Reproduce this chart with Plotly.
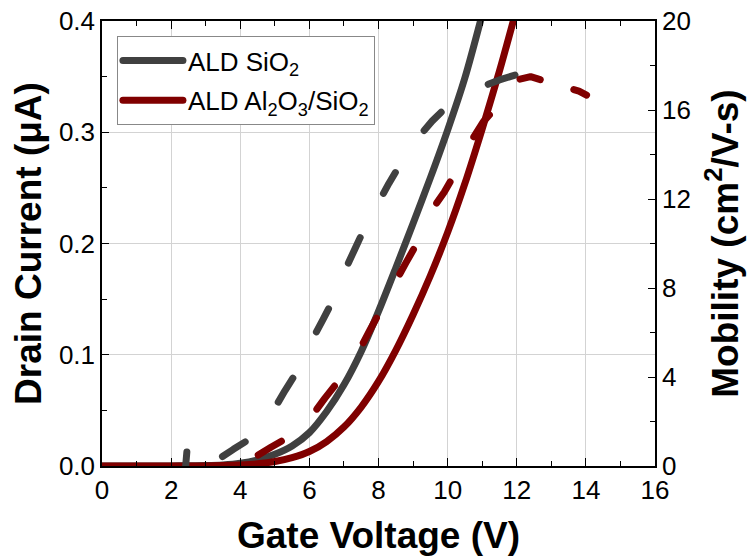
import plotly.graph_objects as go

# Drain current (left axis, µA)
v_sio2 = [0, 1, 2, 2.5, 3, 3.5, 4, 4.5, 5, 5.5, 6, 6.5, 7, 7.5, 8, 8.5, 9, 9.5, 10, 10.5, 10.95]
i_sio2 = [0, 0, 0.0001, 0.0002, 0.0004, 0.001, 0.0025, 0.0055, 0.0105, 0.018, 0.030, 0.049, 0.073,
          0.103, 0.139, 0.178, 0.218, 0.259, 0.302, 0.349, 0.400]

v_al = [0, 1, 2, 3, 3.5, 4, 4.5, 5, 5.5, 6, 6.5, 7, 7.5, 8, 8.5, 9, 9.5, 10, 10.5, 11, 11.5, 11.9]
i_al = [0, 0, 0, 0.0001, 0.0004, 0.001, 0.002, 0.004, 0.0075, 0.013, 0.022, 0.035, 0.053, 0.076,
        0.104, 0.136, 0.171, 0.210, 0.254, 0.303, 0.355, 0.400]

# Mobility (right axis, cm2/V-s)
v_mob_sio2 = [2.42, 2.47, 3.0, 3.41, 3.8, 4.23, 4.6, 5.05, 5.3, 5.58, 5.9, 6.16, 6.4, 6.6, 6.85, 7.08, 7.3,
              7.51, 7.8, 8.09, 8.3, 8.53, 8.9, 9.25, 9.55, 9.88, 10.2, 10.6, 11.08, 11.5, 11.95]
mob_sio2 = [0.0, 0.9, 0.55, 0.35, 0.75, 1.17, 1.8, 2.74, 3.4, 4.09, 5.0, 5.9, 6.6, 7.2, 8.1, 8.96, 9.7,
            10.4, 11.3, 12.1, 12.7, 13.3, 14.2, 14.95, 15.5, 16.0, 16.5, 16.9, 17.1, 17.35, 17.57]

v_mob_al = [4.52, 4.9, 5.29, 5.7, 6.16, 6.45, 6.79, 7.15, 7.51, 7.75, 7.99, 8.3, 8.57, 8.8, 9.06,
            9.35, 9.63, 9.9, 10.12, 10.4, 10.7, 11.03, 11.28, 11.6, 12.0, 12.4, 12.77, 13.1, 13.54,
            13.8, 14.02]
mob_al = [0.49, 0.85, 1.2, 1.8, 2.44, 3.05, 3.72, 4.55, 5.4, 6.1, 6.79, 7.6, 8.5, 9.15, 9.86,
          10.8, 11.7, 12.3, 12.9, 13.8, 14.65, 15.47, 15.9, 16.7, 17.35, 17.5, 17.32, 17.2, 16.97,
          16.85, 16.67]

names = ["ALD SiO<sub>2</sub>", "ALD Al<sub>2</sub>O<sub>3</sub>/SiO<sub>2</sub>"]
GRAY = "#404040"
RED = "#800000"
FONT = "Liberation Sans, Arial, sans-serif"
DASH_GRAY = "14px,44px,27px,52px,28px,52px,26px,50px,28px,50px,24px,51px,25px,56px,40px,40px"
DASH_RED = "27px,48px,29px,52px,28px,50px,28px,52px,25px,51px,27px,48px,21px,35px,30px,40px"

fig = go.Figure()
fig.add_trace(go.Scatter(x=v_sio2, y=i_sio2, mode="lines", name=names[0], legendgroup="a",
                         line=dict(color=GRAY, width=7, shape="spline", smoothing=0.8)))
fig.add_trace(go.Scatter(x=v_al, y=i_al, mode="lines", name=names[1], legendgroup="b",
                         line=dict(color=RED, width=7, shape="spline", smoothing=0.8)))
fig.add_trace(go.Scatter(x=v_mob_sio2, y=mob_sio2, mode="lines", yaxis="y2", showlegend=False,
                         line=dict(color=GRAY, width=7, dash=DASH_GRAY, simplify=False)))
fig.add_trace(go.Scatter(x=v_mob_al, y=mob_al, mode="lines", yaxis="y2", showlegend=False,
                         line=dict(color=RED, width=7, dash=DASH_RED, simplify=False)))

tickfont = dict(family=FONT, size=26, color="black")
titlefont = dict(family=FONT, size=37, color="black", weight="bold")

fig.update_layout(
    width=747, height=559,
    margin=dict(l=102, r=92, t=21, b=93, autoexpand=False),
    plot_bgcolor="white", paper_bgcolor="white",
    showlegend=True,
    legend=dict(x=0.027, y=0.966, xanchor="left", yanchor="top",
                bordercolor="#888888", borderwidth=1, bgcolor="white",
                font=dict(family=FONT, size=26, color="black"),
                tracegroupgap=3, itemwidth=60),
    xaxis=dict(range=[0, 16], dtick=2, tick0=0, ticks="inside", ticklen=8, tickwidth=1.3,
               tickcolor="black", showline=True, linecolor="black", linewidth=1.5, mirror="ticks",
               showgrid=True, gridcolor="#d3d3d3", gridwidth=1, zeroline=False, automargin=False,
               minor=dict(dtick=1, ticks="inside", ticklen=5, tickcolor="black", showgrid=False),
               tickfont=tickfont,
               title=dict(text="Gate Voltage (V)", font=titlefont, standoff=18)),
    yaxis=dict(range=[0, 0.4], dtick=0.1, tick0=0, tickformat=".1f", ticks="inside", ticklen=7,
               tickwidth=1.3, tickcolor="black", showline=True, linecolor="black", linewidth=1.5,
               showgrid=True, gridcolor="#d3d3d3", gridwidth=1, zeroline=False, automargin=False,
               minor=dict(dtick=0.05, ticks="inside", ticklen=5, tickcolor="black", showgrid=False),
               tickfont=tickfont,
               title=dict(text="Drain Current (μA)", font=titlefont, standoff=6)),
    yaxis2=dict(range=[0, 20], dtick=4, tick0=0, overlaying="y", side="right", ticks="inside",
                ticklen=7, tickwidth=1.3, tickcolor="black", showline=True, linecolor="black",
                linewidth=1.5, showgrid=False, zeroline=False, automargin=False,
                minor=dict(dtick=2, ticks="inside", ticklen=5, tickcolor="black"),
                tickfont=tickfont,
                title=dict(text="Mobility (cm<sup>2</sup>/V-s)", font=titlefont, standoff=22)),
)

post = """
document.documentElement.style.margin = '0';
document.body.style.margin = '0';
document.body.style.padding = '0';
document.body.style.overflow = 'hidden';
var gd = document.getElementById('{plot_id}');
function roundCaps(){
  gd.querySelectorAll('path.js-line, .legendlines path').forEach(function(p){
    p.style.strokeLinecap = 'round'; p.style.strokeLinejoin = 'round';
  });
}
roundCaps();
gd.on && gd.on('plotly_afterplot', roundCaps);
"""
fig.write_html("out.html", config=dict(responsive=False, displayModeBar=False), post_script=post)
